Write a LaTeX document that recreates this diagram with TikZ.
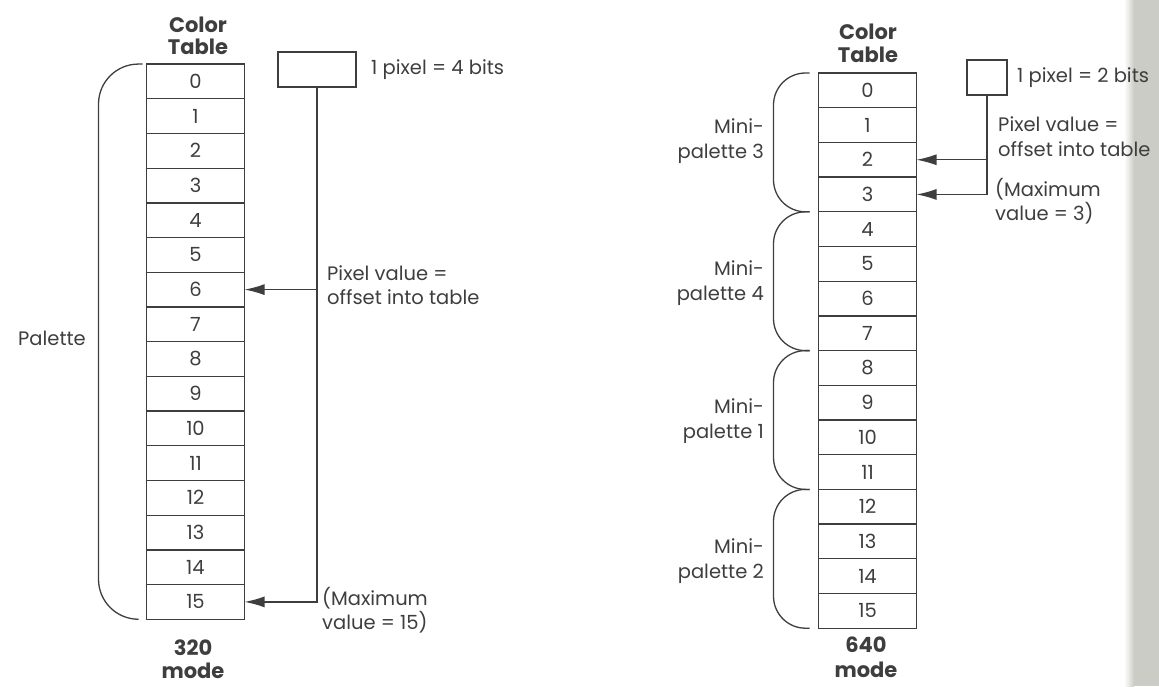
\documentclass[tikz,border=0pt]{standalone}
\usepackage{fontspec}
\setmainfont{Poppins}
\usepackage{tikz}
\usetikzlibrary{positioning,arrows.meta}
\usepackage{xcolor}
\definecolor{inkgray}{RGB}{62,62,62}
\definecolor{stripgray}{RGB}{204,204,198}

\begin{document}
\begin{tikzpicture}[
    x=1pt, y=-1pt,
    every node/.style={font=\fontsize{19.5}{24.5}\selectfont, text=inkgray, align=center, inner sep=1pt},
    cellBox/.style={rectangle, draw=inkgray, line width=1.3pt, minimum width=98pt, minimum height=34.7pt, inner sep=0pt, outer sep=0pt},
    pixBox/.style={rectangle, draw=inkgray, line width=1.3pt, minimum height=35pt, inner sep=0pt, outer sep=0pt},
    headText/.style={font=\fontsize{21}{22.5}\selectfont\bfseries},
    noteText/.style={anchor=west, align=left},
    sideText/.style={anchor=east, align=right},
    ptrLine/.style={draw=inkgray, line width=1.3pt, -{Latex[length=20pt,width=11pt]}},
    braceLine/.style={draw=inkgray, line width=1.3pt, rounded corners=#1},
    braceLine/.default=32pt
]
    \useasboundingbox (0,0) rectangle (1159,686);

    % scanned page edge
    \shade [left color=white, right color=stripgray] (1124,0) rectangle (1134,686);
    \fill [stripgray] (1134,0) rectangle (1159,686);

    % 320 mode
    \node [headText] (lhead) at (198, 36) {Color\\Table};

    \node [cellBox] (l0) at (195.5, 81.4) {0};
    \node [cellBox, below=0pt of l0] (l1) {1};
    \node [cellBox, below=0pt of l1] (l2) {2};
    \node [cellBox, below=0pt of l2] (l3) {3};
    \node [cellBox, below=0pt of l3] (l4) {4};
    \node [cellBox, below=0pt of l4] (l5) {5};
    \node [cellBox, below=0pt of l5] (l6) {6};
    \node [cellBox, below=0pt of l6] (l7) {7};
    \node [cellBox, below=0pt of l7] (l8) {8};
    \node [cellBox, below=0pt of l8] (l9) {9};
    \node [cellBox, below=0pt of l9] (l10) {10};
    \node [cellBox, below=0pt of l10] (l11) {11};
    \node [cellBox, below=0pt of l11] (l12) {12};
    \node [cellBox, below=0pt of l12] (l13) {13};
    \node [cellBox, below=0pt of l13] (l14) {14};
    \node [cellBox, below=0pt of l14] (l15) {15};

    \node [headText] (lmode) at (193, 659) {320\\mode};

    \node [pixBox, minimum width=78pt] (lpix) at (317, 69.5) {};
    \node [noteText] (lbits) at (370, 70) {1 pixel = 4 bits};
    \node [noteText] (loffset) at (326, 285) {Pixel value =\\offset into table};
    \node [noteText] (lmax) at (321, 610) {(Maximum\\value = 15)};

    \draw [braceLine=40pt] ([xshift=-4pt]l0.north west) -- ++(-44,0) |- ([xshift=-10pt]l15.south west);
    \node [sideText] (lpal) at (87, 338) {Palette};

    \path [ptrLine] (lpix.south) |- (l15.east);
    \path [ptrLine] (lpix.south |- l6.east) -- (l6.east);

    % 640 mode
    \node [headText] (rhead) at (868, 43.5) {Color\\Table};

    \node [cellBox] (r0) at (867.5, 90.35) {0};
    \node [cellBox, below=0pt of r0] (r1) {1};
    \node [cellBox, below=0pt of r1] (r2) {2};
    \node [cellBox, below=0pt of r2] (r3) {3};
    \node [cellBox, below=0pt of r3] (r4) {4};
    \node [cellBox, below=0pt of r4] (r5) {5};
    \node [cellBox, below=0pt of r5] (r6) {6};
    \node [cellBox, below=0pt of r6] (r7) {7};
    \node [cellBox, below=0pt of r7] (r8) {8};
    \node [cellBox, below=0pt of r8] (r9) {9};
    \node [cellBox, below=0pt of r9] (r10) {10};
    \node [cellBox, below=0pt of r10] (r11) {11};
    \node [cellBox, below=0pt of r11] (r12) {12};
    \node [cellBox, below=0pt of r12] (r13) {13};
    \node [cellBox, below=0pt of r13] (r14) {14};
    \node [cellBox, below=0pt of r14] (r15) {15};

    \node [headText] (rmode) at (866, 657) {640\\[2pt]mode};

    \node [pixBox, minimum width=40pt] (rpix) at (987, 77.5) {};
    \node [noteText] (rbits) at (1016, 78) {1 pixel = 2 bits};
    \node [noteText] (roffset) at (997, 136.5) {Pixel value =\\offset into table};
    \node [noteText] (rmax) at (994, 201) {(Maximum\\value = 3)};

    \draw [braceLine] ([xshift=-9pt]r0.north west) -- ++(-36,0) |- ([xshift=-9pt]r3.south west);
    \draw [braceLine] ([xshift=-9pt]r4.north west) -- ++(-36,0) |- ([xshift=-9pt]r7.south west);
    \draw [braceLine] ([xshift=-9pt]r8.north west) -- ++(-36,0) |- ([xshift=-9pt]r11.south west);
    \draw [braceLine] ([xshift=-9pt]r12.north west) -- ++(-36,0) |- ([xshift=-9pt]r15.south west);

    \node [sideText] (mini3) at (765, 141) {Mini-\\palette 3};
    \node [sideText] (mini4) at (765, 283) {Mini-\\palette 4};
    \node [sideText] (mini1) at (765, 421) {Mini-\\palette 1};
    \node [sideText] (mini2) at (765, 561) {Mini-\\palette 2};

    \path [ptrLine] (rpix.south) |- (r3.east);
    \path [ptrLine] (rpix.south |- r2.east) -- (r2.east);
\end{tikzpicture}
\end{document}
